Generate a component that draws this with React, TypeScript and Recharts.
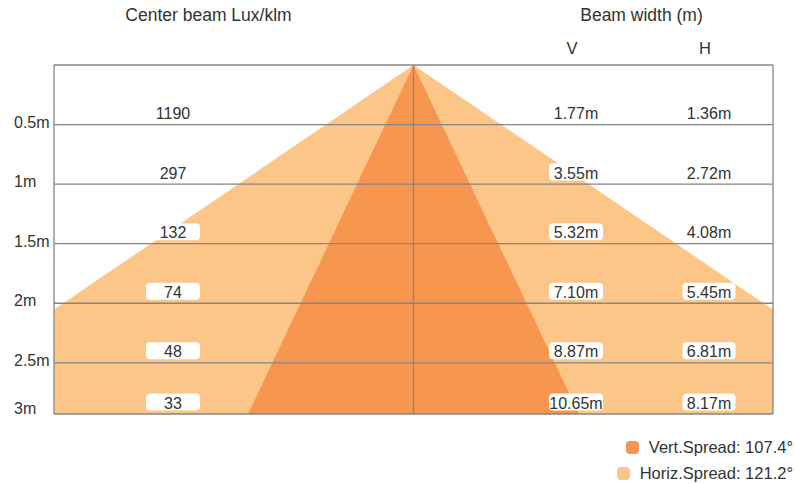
import {
  Area,
  ComposedChart,
  Legend,
  ReferenceLine,
  XAxis,
  YAxis,
} from "recharts";

// rows of the photometric table
const distances = [0.5, 1, 1.5, 2, 2.5, 3];
const distanceLabels = ["0.5m", "1m", "1.5m", "2m", "2.5m", "3m"];
const luxValues = ["1190", "297", "132", "74", "48", "33"];
const vWidths = ["1.77m", "3.55m", "5.32m", "7.10m", "8.87m", "10.65m"];
const hWidths = ["1.36m", "2.72m", "4.08m", "5.45m", "6.81m", "8.17m"];

// beam outline in drawing units (apex at 0, frame bottom at 2.93)
const beamX = [-4.31, -1.39, 0, 1.39, 4.31];
const horizDepth = [2.93, null, 0, null, 2.93];
const vertDepth = [null, 2.93, 0, 2.93, null];

const spreadNames = ["Vert.Spread", "Horiz.Spread"];
const spreadAngles = [107.4, 121.2];

const Y_MAX = 2.93; // the 3m row sits on the frame bottom, a bit short of scale
const X_HALF = 3.02;

const VERT_COLOR = "#f7964f";
const HORIZ_COLOR = "#fbc688";
const LINE_COLOR = "#858585";
const TEXT_COLOR = "#333";
const FONT = "'Liberation Sans', Arial, Helvetica, sans-serif";

const beamData = beamX.map((x, i) => ({
  x,
  horiz: horizDepth[i],
  vert: vertDepth[i],
}));
const rowTicks = distances.map((d) => Math.min(d, Y_MAX));

function Tag({ cx, y, w, text }: { cx: number; y: number; w: number; text: string }) {
  return (
    <g>
      <rect x={cx - w / 2} y={y - 20.5} width={w} height={17} rx={4} fill="#fff" />
      <text x={cx} y={y - 5.5} textAnchor="middle" fontSize={16} fill={TEXT_COLOR} fontFamily={FONT}>
        {text}
      </text>
    </g>
  );
}

function RowTick(props: any) {
  const { y, index } = props;
  const isLast = index === distances.length - 1;
  return (
    <g>
      <text x={14} y={isLast ? y : y + 3} fontSize={16} fill={TEXT_COLOR} fontFamily={FONT}>
        {distanceLabels[index]}
      </text>
      <Tag cx={173} y={y} w={54} text={luxValues[index]} />
      <Tag cx={576} y={y} w={54} text={vWidths[index]} />
      <Tag cx={709} y={y} w={53} text={hWidths[index]} />
    </g>
  );
}

function SpreadLegend() {
  const colors = [VERT_COLOR, HORIZ_COLOR];
  return (
    <div style={{ fontFamily: FONT, fontSize: 16.5, color: TEXT_COLOR }}>
      {spreadNames.map((name, i) => (
        <div
          key={name}
          style={{
            display: "flex",
            alignItems: "center",
            justifyContent: "flex-end",
            height: 26,
            whiteSpace: "nowrap",
          }}
        >
          <span
            style={{
              width: 13,
              height: 13,
              borderRadius: 4,
              background: colors[i],
              marginRight: 10,
            }}
          />
          {`${name}: ${spreadAngles[i]}°`}
        </div>
      ))}
    </div>
  );
}

function Heading({ cx, cy, size, children }: any) {
  return (
    <div
      style={{
        position: "absolute",
        left: cx,
        top: cy - size / 2,
        transform: "translateX(-50%)",
        fontSize: size,
        lineHeight: `${size}px`,
        whiteSpace: "nowrap",
        color: TEXT_COLOR,
        fontFamily: FONT,
      }}
    >
      {children}
    </div>
  );
}

export default function App() {
  return (
    <div style={{ position: "absolute", left: 0, top: 0, width: 795, height: 484, background: "#fff" }}>
      <ComposedChart
        width={795}
        height={484}
        data={beamData}
        margin={{ top: 65, right: 22, bottom: 70, left: 0 }}
      >
        <XAxis
          type="number"
          dataKey="x"
          domain={[-X_HALF, X_HALF]}
          allowDataOverflow
          height={0}
          tick={false}
          tickLine={false}
          axisLine={{ stroke: LINE_COLOR, strokeWidth: 1.3 }}
        />
        <YAxis
          type="number"
          reversed
          domain={[0, Y_MAX]}
          allowDataOverflow
          ticks={rowTicks}
          interval={0}
          width={54}
          tickLine={false}
          tick={<RowTick />}
          axisLine={{ stroke: LINE_COLOR, strokeWidth: 1.3 }}
        />
        <Area
          type="linear"
          dataKey="horiz"
          name="Horiz.Spread"
          connectNulls
          baseValue="dataMax"
          stroke="none"
          fill={HORIZ_COLOR}
          fillOpacity={1}
          isAnimationActive={false}
        />
        <Area
          type="linear"
          dataKey="vert"
          name="Vert.Spread"
          connectNulls
          baseValue="dataMax"
          stroke="none"
          fill={VERT_COLOR}
          fillOpacity={1}
          isAnimationActive={false}
        />
        <ReferenceLine y={0} stroke={LINE_COLOR} strokeWidth={1.3} />
        <ReferenceLine x={X_HALF} stroke={LINE_COLOR} strokeWidth={1.3} />
        <ReferenceLine x={0} stroke={LINE_COLOR} strokeWidth={1.3} />
        {rowTicks.map((d) => (
          <ReferenceLine key={d} y={d} stroke={LINE_COLOR} strokeWidth={1.3} />
        ))}
        {/* centered + middle so the legend reserves no plot space */}
        <Legend
          layout="horizontal"
          verticalAlign="middle"
          align="center"
          content={() => <SpreadLegend />}
          wrapperStyle={{ top: 434, right: 2, left: "auto", width: "auto" }}
        />
      </ComposedChart>
      <Heading cx={208.5} cy={16} size={17.5}>Center beam Lux/klm</Heading>
      <Heading cx={641.5} cy={16} size={17.5}>Beam width (m)</Heading>
      <Heading cx={572} cy={48} size={16.5}>V</Heading>
      <Heading cx={705} cy={48} size={16.5}>H</Heading>
    </div>
  );
}
